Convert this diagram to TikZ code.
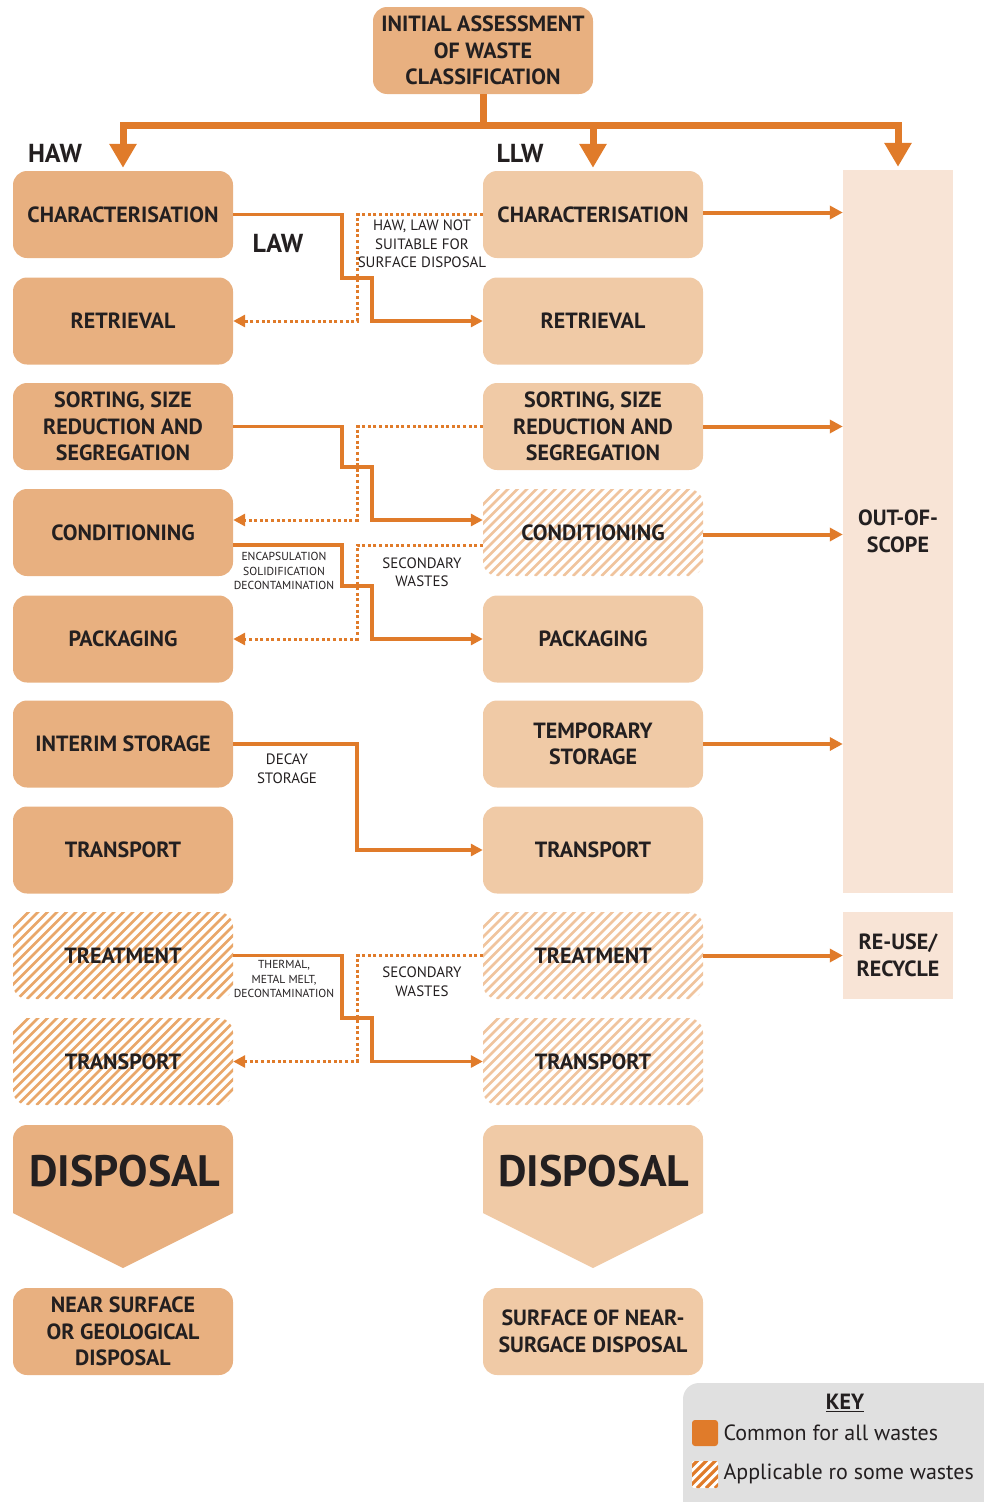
\documentclass[tikz,border=0pt]{standalone}
\usepackage{fontspec}
\setmainfont{PT Sans}
\usetikzlibrary{arrows.meta}
\definecolor{haw}{HTML}{E8B080}
\definecolor{llw}{HTML}{F0CAA6}
\definecolor{oos}{HTML}{F8E4D6}
\definecolor{flowc}{HTML}{E07B2A}
\definecolor{ink}{HTML}{231F20}
\definecolor{hatchL}{HTML}{E9A76A}
\definecolor{hatchR}{HTML}{F0C49E}
\definecolor{keygray}{HTML}{E0E0E0}
\begin{document}
\begin{tikzpicture}[x=1pt,y=-1pt,
  lbl/.style={font=\bfseries\fontsize{22}{26.5}\selectfont, text=ink, align=center},
  stage/.style={lbl, rounded corners=14pt, minimum width=220pt, minimum height=87pt, inner sep=0pt},
  hawbox/.style={stage, fill=haw},
  llwbox/.style={stage, fill=llw},
  hatched/.style={stage, path picture={%
      \foreach \k in {-100,-90.5,...,230}{%
        \draw[line width=2.6pt,#1] ([xshift=\k pt]path picture bounding box.south west) -- ++(110pt,110pt);}}},
  side/.style={lbl, minimum width=110pt, inner sep=0pt, fill=oos},
  small/.style={font=\fontsize{15}{18.5}\selectfont, text=ink, align=center},
  tiny/.style={font=\fontsize{11.6}{14.5}\selectfont, text=ink, align=center},
  tag/.style={font=\bfseries\fontsize{26}{30}\selectfont, text=ink},
  bigword/.style={font=\bfseries\fontsize{44}{48}\selectfont, text=ink},
  flow/.style={draw=flowc, line width=3.5pt, -{Triangle[length=12pt,width=12pt]}},
  dotflow/.style={draw=flowc, line width=3pt, dash pattern=on 3pt off 2.6pt, -{Triangle[length=12pt,width=12pt]}},
  outflow/.style={draw=flowc, line width=4pt, -{Triangle[length=13pt,width=13pt]}},
  bus/.style={draw=flowc, line width=7pt},
  bustip/.style={-{Triangle[length=24pt,width=26pt]}},
  keytext/.style={font=\fontsize{22}{26}\selectfont, text=ink}
]
\useasboundingbox (0,0) rectangle (983,1502);

% initial assessment
\node[hawbox] (top) at (483,50.5) {INITIAL ASSESSMENT\\OF WASTE\\CLASSIFICATION};

% HAW column
\node[hawbox] (L1) at (123,214.5) {CHARACTERISATION};
\node[hawbox] (L2) at (123,321) {RETRIEVAL};
\node[hawbox] (L3) at (123,426.5) {SORTING, SIZE\\REDUCTION AND\\SEGREGATION};
\node[hawbox] (L4) at (123,532.5) {CONDITIONING};
\node[hawbox] (L5) at (123,639) {PACKAGING};
\node[hawbox] (L6) at (123,744) {INTERIM STORAGE};
\node[hawbox] (L7) at (123,850) {TRANSPORT};
\node[hatched=hatchL] (L8) at (123,955.5) {TREATMENT};
\node[hatched=hatchL] (L9) at (123,1061.5) {TRANSPORT};
\node[hawbox] (L11) at (123,1331.5) {NEAR SURFACE\\OR GEOLOGICAL\\DISPOSAL};

% LLW column
\node[llwbox] (R1) at (593,214.5) {CHARACTERISATION};
\node[llwbox] (R2) at (593,321) {RETRIEVAL};
\node[llwbox] (R3) at (593,426.5) {SORTING, SIZE\\REDUCTION AND\\SEGREGATION};
\node[hatched=hatchR] (R4) at (593,532.5) {CONDITIONING};
\node[llwbox] (R5) at (593,639) {PACKAGING};
\node[llwbox] (R6) at (593,744) {TEMPORARY\\STORAGE};
\node[llwbox] (R7) at (593,850) {TRANSPORT};
\node[hatched=hatchR] (R8) at (593,955.5) {TREATMENT};
\node[hatched=hatchR] (R9) at (593,1061.5) {TRANSPORT};
\node[llwbox] (R11) at (593,1331.5) {SURFACE OF NEAR-\\SURGACE DISPOSAL};

% disposal pentagons
\fill[haw] (13,1213) [rounded corners=14pt] -- (13,1125) -- (233,1125) [sharp corners] -- (233,1213) -- (123,1268) -- cycle;
\fill[llw] (483,1213) [rounded corners=14pt] -- (483,1125) -- (703,1125) [sharp corners] -- (703,1213) -- (593,1268) -- cycle;
\node[bigword] (D1) at (125,1171) {DISPOSAL};
\node[bigword] (D2) at (594,1171) {DISPOSAL};

% out of scope / re-use
\node[side, minimum height=723pt] (OOS) at (898,531.5) {OUT-OF-\\SCOPE};
\node[side, minimum height=87pt] (RU) at (898,955.5) {RE-USE/\\RECYCLE};

% stream labels
\node[tag] (haw) at (55,153) {HAW};
\node[tag] (llw) at (520,153) {LLW};
\node[tag] (law) at (278,243) {LAW};

% distribution bus
\coordinate (bus) at (483,125);
\draw[bus] (top.south) -- (bus);
\draw[bus, bustip] (bus) -| ([yshift=3pt]L1.north);
\draw[bus, bustip] (bus) -| ([yshift=3pt]OOS.north);
\draw[bus, bustip] (bus -| R1.north) -- ([yshift=3pt]R1.north);

% out-of-scope and re-use arrows
\draw[outflow] ([yshift=2pt]R1.east) -- ([yshift=2pt]R1.east -| OOS.west);
\draw[outflow] (R3.east) -- (R3.east -| OOS.west);
\draw[outflow] ([yshift=-2pt]R4.east) -- ([yshift=-2pt]R4.east -| OOS.west);
\draw[outflow] (R6.east) -- (R6.east -| OOS.west);
\draw[outflow] (R8.east) -- (RU.west);

% characterisation -> retrieval
\draw[flow] (L1.east) -| (342,278) -| (372,300) |- (R2.west);
\draw[dotflow] (R1.west) -| (357,300) |- (L2.east);
\node[small] (n1) at (422,244) {HAW, LAW NOT\\SUITABLE FOR\\SURFACE DISPOSAL};

% sorting -> conditioning
\draw[flow] (L3.east) -| (342,467) -| (372,490) |- ([yshift=12.5pt]R4.west);
\draw[dotflow] (R3.west) -| (357,490) |- ([yshift=12.5pt]L4.east);

% conditioning -> packaging
\draw[flow] ([yshift=-12.5pt]L4.east) -| (342,586) -| (372,610) |- (R5.west);
\draw[dotflow] ([yshift=-12.5pt]R4.west) -| (357,610) |- (L5.east);
\node[tiny] (n2) at (284,571) {ENCAPSULATION\\SOLIDIFICATION\\DECONTAMINATION};
\node[small] (n3) at (422,572) {SECONDARY\\WASTES};

% interim storage -> transport
\draw[flow] (L6.east) -| (357,800) |- (R7.west);
\node[small] (n4) at (287,768.5) {DECAY\\STORAGE};

% treatment -> transport
\draw[flow] (L8.east) -| (342,1018) -| (372,1040) |- (R9.west);
\draw[dotflow] (R8.west) -| (357,1040) |- (L9.east);
\node[tiny] (n5) at (284,979) {THERMAL,\\METAL MELT,\\DECONTAMINATION};
\node[small] (n6) at (422,981.5) {SECONDARY\\WASTES};

% key
\fill[keygray, rounded corners=16pt] (683,1383) rectangle (1020,1540);
\node[keytext, font=\bfseries\fontsize{22}{26}\selectfont] (keyt) at (845,1403) {\underline{KEY}};
\node[fill=flowc, rounded corners=3pt, minimum width=26pt, minimum height=26pt, inner sep=0pt] (k1) at (705,1433) {};
\node[keytext, anchor=west] (k1t) at (720,1433) {Common for all wastes};
\node[fill=white, rounded corners=2pt, minimum width=26pt, minimum height=27pt, inner sep=0pt, path picture={%
    \foreach \k in {-40,-31,...,30}{%
      \draw[line width=3.2pt,flowc] ([xshift=\k pt]path picture bounding box.south west) -- ++(40pt,40pt);}}] (k2) at (705,1474.5) {};
\node[keytext, anchor=west] (k2t) at (720,1474) {Applicable ro some wastes};
\end{tikzpicture}
\end{document}
